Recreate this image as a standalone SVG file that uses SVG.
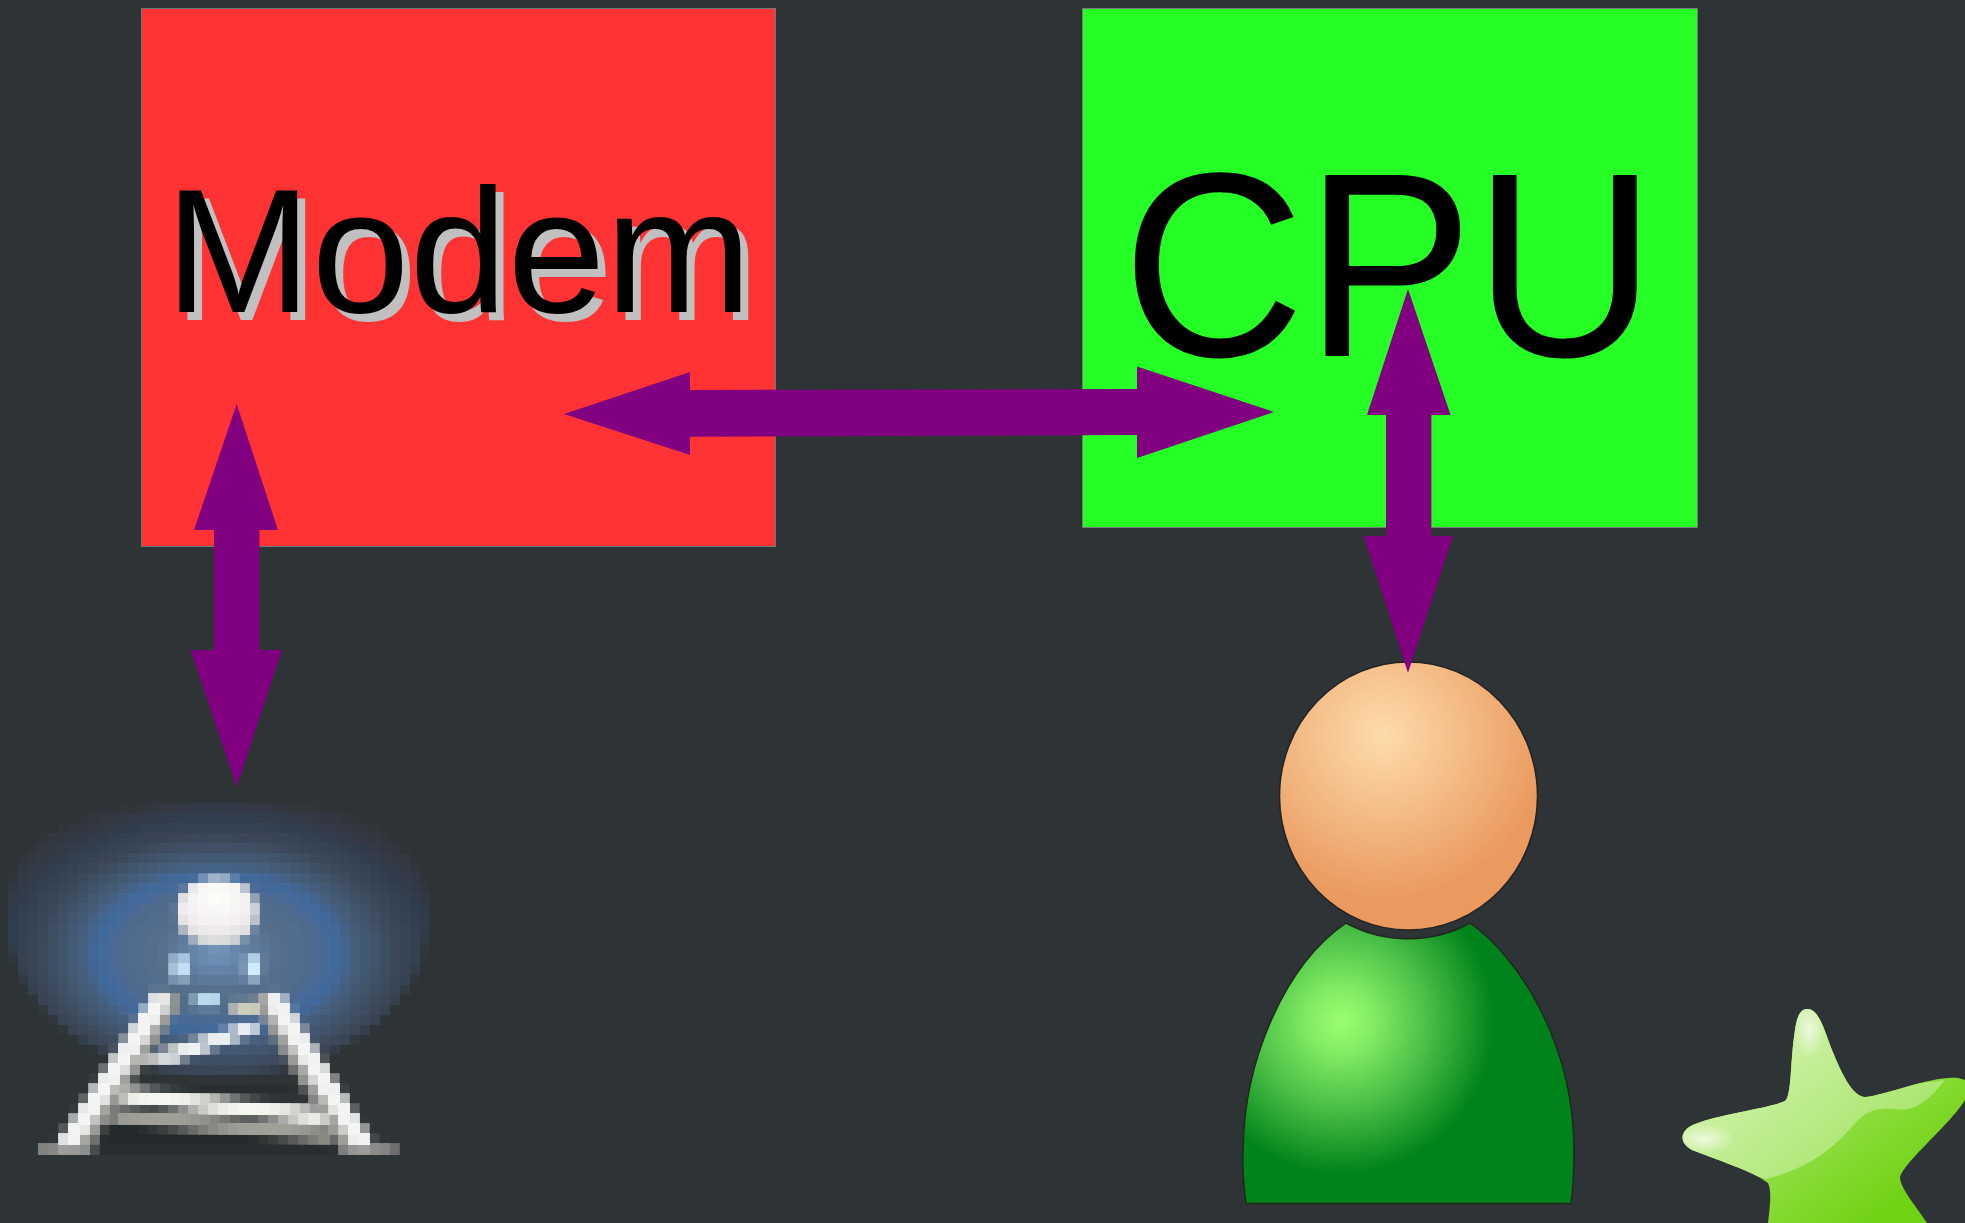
<svg xmlns="http://www.w3.org/2000/svg" width="1965" height="1223" viewBox="0 0 1965 1223">
<style>
.box{stroke:#777;stroke-width:1}
.lbl{font-family:"Liberation Sans",Arial,sans-serif}
.arrow{fill:#800080}
</style>
<defs>
<radialGradient id="head" gradientUnits="userSpaceOnUse" cx="1383" cy="735" r="165"><stop offset="0" stop-color="#fddcab"/><stop offset="1" stop-color="#ea9a5f"/></radialGradient>
<radialGradient id="body" gradientUnits="userSpaceOnUse" cx="1341" cy="1021" r="180"><stop offset="0" stop-color="#9bff70"/><stop offset=".18" stop-color="#82ec64"/><stop offset=".5" stop-color="#48bc44"/><stop offset=".85" stop-color="#00831a"/></radialGradient>
<linearGradient id="starBase" gradientUnits="userSpaceOnUse" x1="1780" y1="1090" x2="1880" y2="1223"><stop offset="0" stop-color="#a2e45a"/><stop offset="1" stop-color="#6fd212"/></linearGradient>
<linearGradient id="starLight" gradientUnits="userSpaceOnUse" x1="1760" y1="1040" x2="1860" y2="1160"><stop offset="0" stop-color="#d0f2a8"/><stop offset="1" stop-color="#aae670"/></linearGradient>
<radialGradient id="glint"><stop offset="0" stop-color="#eef9e0"/><stop offset="1" stop-color="#eef9e0" stop-opacity="0"/></radialGradient>
<clipPath id="starClip"><path d="M1807,1009C1817,1009 1822,1022 1830,1045C1840,1070 1852,1098 1866,1097C1885,1095 1935,1075 1958,1078L1965,1080V1100C1950,1125 1900,1165 1900,1179C1902,1190 1915,1205 1927,1223H1768C1770,1205 1772,1192 1768,1183C1755,1172 1712,1158 1692,1150C1678,1142 1680,1130 1695,1124C1720,1114 1770,1108 1785,1101C1792,1095 1790,1060 1795,1030C1797,1015 1801,1009 1807,1009Z"/></clipPath>
<radialGradient id="glow" cx=".5" cy=".55" r=".62">
<stop offset="0" stop-color="#7092bb"/><stop offset=".22" stop-color="#566f8c"/><stop offset=".38" stop-color="#4e6a8c"/><stop offset=".46" stop-color="#3e6a9e"/><stop offset=".52" stop-color="#46607e"/><stop offset=".68" stop-color="#3c4858"/><stop offset=".8" stop-color="#303e4e"/><stop offset=".9" stop-color="#343741"/><stop offset="1" stop-color="#2e3436"/></radialGradient>
<radialGradient id="ball" cx=".5" cy=".3" r=".75"><stop offset="0" stop-color="#fffffa"/><stop offset=".6" stop-color="#f1ecef"/><stop offset="1" stop-color="#c8cfcc"/></radialGradient>
<filter id="px" filterUnits="userSpaceOnUse" primitiveUnits="userSpaceOnUse" x="8.7" y="803" width="428" height="355" color-interpolation-filters="sRGB">
<feGaussianBlur in="SourceGraphic" stdDeviation="2.6" result="soft"/>
<feFlood x="13" y="808" width="2" height="2" flood-color="#000"/>
<feComposite x="8.7" y="803" width="10.44" height="10.44"/>
<feTile result="grid"/>
<feComposite in="soft" in2="grid" operator="in"/>
<feMorphology operator="dilate" radius="5.3"/>
</filter>
<filter id="shadow" filterUnits="userSpaceOnUse" x="140" y="150" width="640" height="200" color-interpolation-filters="sRGB">
<feDropShadow dx="8" dy="8" stdDeviation="0" flood-color="#c0c0c0"/>
</filter>
</defs>
<rect id="background" width="1965" height="1223" fill="#2e3436"/>
<g id="modem">
<rect class="box" x="141.5" y="8.5" width="634" height="538" fill="#ff3333"/>
<text class="lbl" x="165" y="312" font-size="176" fill="#000" filter="url(#shadow)">Modem</text>
</g>
<g id="cpu">
<rect class="box" x="1082.5" y="8.5" width="615" height="519" fill="#26ff26"/>
<text class="lbl" transform="translate(1122,356) scale(1,1.04)" font-size="253" fill="#000">CPU</text>
</g>
<g id="tower" filter="url(#px)">
<rect x="0" y="790" width="450" height="390" fill="#2e3436"/>
<path d="M9,917C9,830 90,805 217,805C344,805 426,830 426,917C426,1000 340,1075 217,1075C94,1075 9,1000 9,917Z" fill="url(#glow)"/>
<path d="M197,1083H293V1093H197Z" fill="#272c2e"/>
<path d="M105,1123H325L335,1150H100Z" fill="#23282a"/>
<g fill="none">
<path d="M180,958V978M253,958V978" stroke="#d2ecff" stroke-width="13"/>
<path d="M195,1001H218" stroke="#c8e8f8" stroke-width="9"/>
<path d="M233,1008H283" stroke="#d0cfc0" stroke-width="11"/>
<path d="M113,1070L250,1028" stroke="#d0d0cc" stroke-width="8"/>
<path d="M163,1060L255,1027" stroke="#f8fbfb" stroke-width="8"/>
<path d="M113,1115L333,1135" stroke="#a09f98" stroke-width="13"/>
<path d="M123,1095L333,1118" stroke="#f6f6f0" stroke-width="13"/>
<path d="M172,996L74,1152" stroke="#9a9a96" stroke-width="20"/>
<path d="M262,996L356,1152" stroke="#9a9a96" stroke-width="20"/>
<path d="M163,996L62,1152" stroke="#f4f4f4" stroke-width="16"/>
<path d="M272,996L368,1152" stroke="#f4f4f4" stroke-width="16"/>
</g>
<path d="M40,1146H92V1158H40ZM343,1146H395V1158H343Z" fill="#8c8c8a"/>
<ellipse cx="217" cy="912" rx="39" ry="33" fill="url(#ball)"/>
</g>
<g id="person">
<ellipse cx="1408.5" cy="796" rx="129" ry="134" fill="url(#head)" stroke="#222" stroke-width="1.5"/>
<path d="M1346,923C1385,944 1432,944 1470,923C1520,958 1574,1045 1574,1150C1574,1170 1573,1190 1571,1203.5L1246,1203.5C1243,1180 1242,1165 1243,1150C1244,1060 1285,965 1346,923Z" fill="url(#body)" stroke="#1c2a1c" stroke-width="1.5"/>
</g>
<g id="star">
<g clip-path="url(#starClip)">
<rect x="1670" y="1000" width="295" height="223" fill="url(#starBase)"/>
<path d="M1807,1000L1870,1090L1945,1080C1925,1105 1912,1112 1895,1109C1880,1107 1868,1110 1858,1120C1840,1140 1820,1165 1766,1179L1670,1150V1100L1790,1000Z" fill="url(#starLight)"/>
<ellipse cx="1809" cy="1030" rx="15" ry="28" fill="url(#glint)"/>
<ellipse cx="1705" cy="1139" rx="30" ry="15" fill="url(#glint)"/>
</g>
</g>
<g id="connectors">
<polygon class="arrow" points="564,414 690,372 690,390 1137,389 1137,366.5 1274,412 1137,458 1137,435 690,436.7 690,455"/>
<polygon class="arrow" points="1408,289 1450.6,415 1431.4,415 1431.4,536 1453,536 1408,672.8 1363.6,536 1386,536 1386,415 1367,415"/>
<polygon class="arrow" points="236.7,404 278,530 259.5,530 259.5,650 282,650 236.7,787 190.5,650 214,650 214,530 194,530"/>
</g>
</svg>
